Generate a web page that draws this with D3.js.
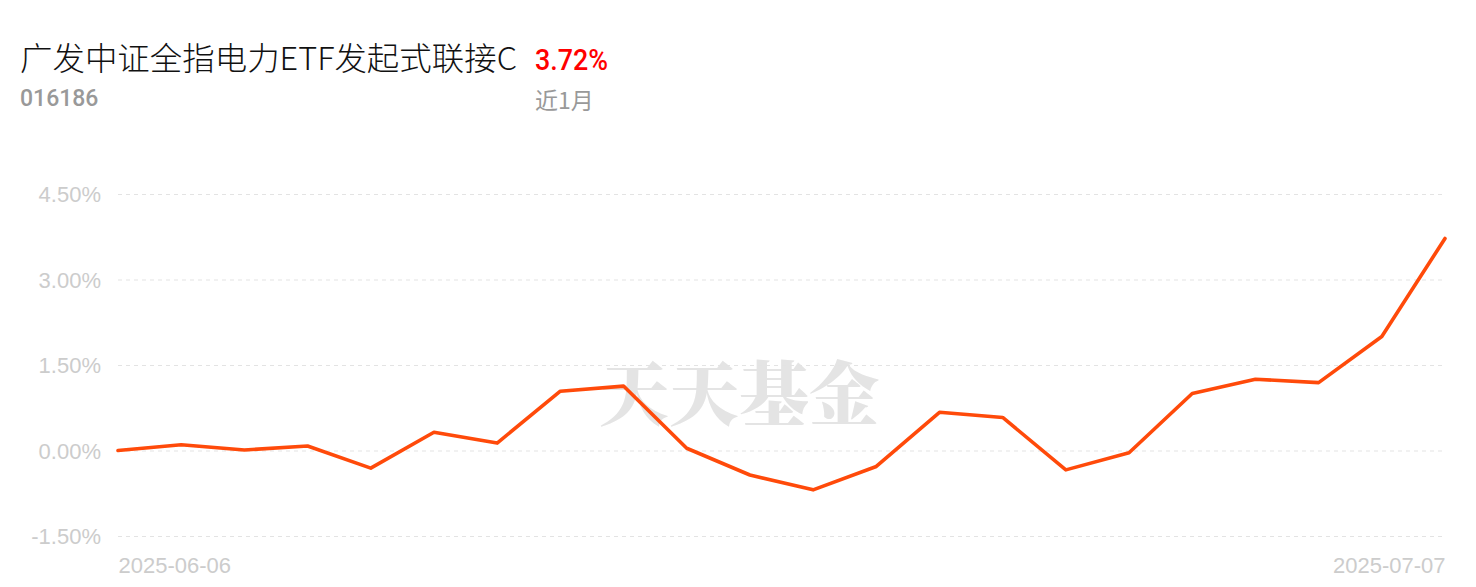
<!DOCTYPE html>
<html>
<head>
<meta charset="utf-8">
<script src="https://cdn.jsdelivr.net/npm/d3@7"></script>
<style>
html,body{margin:0;padding:0;background:#fff;}
svg{display:block;}
</style>
</head>
<body>
<svg id="chart" width="1476" height="587"></svg>
<script>
const fundName = "广发中证全指电力ETF发起式联接C";
const fundCode = "016186";
const periodReturn = "3.72%";
const periodLabel = "近1月";
const watermark = "天天基金";
const startDateLabel = "2025-06-06";
const endDateLabel = "2025-07-07";
const yTicks = [-1.5, 0, 1.5, 3.0, 4.5];
const pointIndex = [0,1,2,3,4,5,6,7,8,9,10,11,12,13,14,15,16,17,18,19,20,21];
const returns = [0.00,0.10,0.01,0.08,-0.31,0.32,0.13,1.04,1.13,0.04,-0.43,-0.69,-0.28,0.67,0.58,-0.34,-0.04,1.00,1.25,1.19,2.00,3.72];

const svg = d3.select("#chart");
const x = d3.scaleLinear().domain([0, returns.length - 1]).range([118, 1445]);
const y = d3.scaleLinear().domain([-1.5, 4.5]).range([536, 194]);

const cjk = "'Noto Sans CJK SC','Noto Sans',sans-serif";
const latin = "Roboto,'Noto Sans',sans-serif";
const helv = "'Liberation Sans',Arial,sans-serif";

// Header
svg.append("text").attr("x", 20).attr("y", 70)
  .attr("font-family", cjk).attr("font-size", 32).attr("font-weight", 300).attr("fill", "#111")
  .attr("textLength", 497).attr("lengthAdjust", "spacingAndGlyphs")
  .text(fundName);
svg.append("text").attr("x", 535).attr("y", 70)
  .attr("font-family", latin).attr("font-size", 29).attr("font-weight", 500).attr("fill", "#ff0000")
  .attr("textLength", 73).attr("lengthAdjust", "spacingAndGlyphs")
  .text(periodReturn);
svg.append("text").attr("x", 20).attr("y", 106)
  .attr("font-family", latin).attr("font-size", 23).attr("font-weight", 500).attr("fill", "#999")
  .text(fundCode);
svg.append("text").attr("x", 535).attr("y", 109)
  .attr("font-family", cjk).attr("font-size", 23).attr("fill", "#999")
  .text(periodLabel);

// Watermark
svg.append("text").attr("x", 739).attr("y", 420)
  .attr("text-anchor", "middle")
  .attr("font-family", "'Noto Serif CJK SC','Noto Sans CJK SC',serif").attr("font-size", 70).attr("font-weight", 900)
  .attr("fill", "#e4e4e4")
  .text(watermark);

// Y axis with dashed gridlines
const yAxis = d3.axisLeft(y).tickValues(yTicks)
  .tickSize(-(1445 - 118)).tickPadding(17)
  .tickFormat(d => d.toFixed(2) + "%");
const gy = svg.append("g").attr("transform", "translate(118,0)").call(yAxis);
gy.select(".domain").remove();
gy.selectAll(".tick line").attr("stroke", "#e3e3e3").attr("stroke-width", 1.2).attr("stroke-dasharray", "4,4");
gy.selectAll(".tick text").attr("font-family", helv).attr("font-size", 22).attr("fill", "#cccccc")
  .attr("dy", "0.35em");

// X axis labels
const xAxis = d3.axisBottom(x).tickValues([0, returns.length - 1]).tickSize(0).tickPadding(0)
  .tickFormat(d => d === 0 ? startDateLabel : endDateLabel);
const gx = svg.append("g").attr("transform", "translate(0,573)").call(xAxis);
gx.select(".domain").remove();
gx.selectAll(".tick text").attr("font-family", helv).attr("font-size", 22).attr("fill", "#cccccc")
  .attr("dy", 0).attr("y", 0)
  .attr("text-anchor", (d, i) => i === 0 ? "start" : "end");

// Line
const line = d3.line().x((d, i) => x(pointIndex[i])).y(d => y(d));
svg.append("path").datum(returns)
  .attr("d", line).attr("fill", "none")
  .attr("stroke", "#ff4a0a").attr("stroke-width", 3.6)
  .attr("stroke-linejoin", "round").attr("stroke-linecap", "round");
</script>
</body>
</html>
